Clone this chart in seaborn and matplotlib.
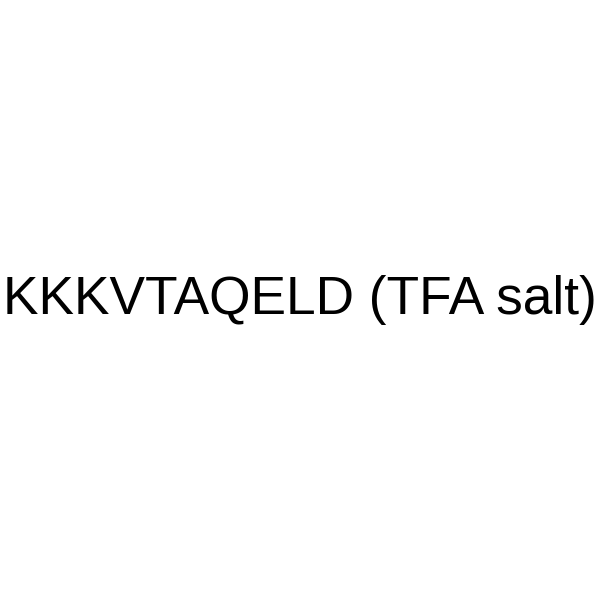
import matplotlib
matplotlib.use("Agg")
import matplotlib.pyplot as plt
import seaborn as sns

label_text = "KKKVTAQELD (TFA salt)"

sns.set_theme(style="white")
plt.rcParams['font.family'] = ['Liberation Sans', 'DejaVu Sans']

fig = plt.figure(figsize=(6, 6), dpi=100)
fig.patch.set_facecolor("white")
ax = fig.add_axes([0, 0, 1, 1])
ax.set_axis_off()
ax.set_xlim(0, 1)
ax.set_ylim(0, 1)
ax.text(0.5, 1 - 314 / 600, label_text, ha="center", va="baseline",
        fontsize=38.3, color="black")
fig.savefig("out.png", dpi=100, facecolor="white")
